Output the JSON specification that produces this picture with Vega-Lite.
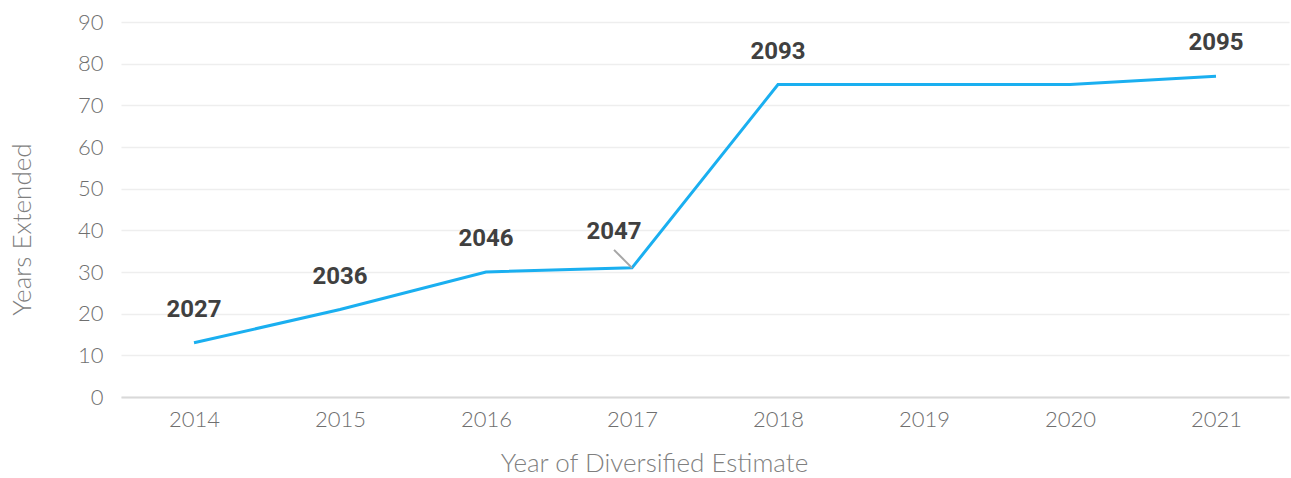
{
  "$schema": "https://vega.github.io/schema/vega-lite/v6.json",
  "width": 1168,
  "height": 375,
  "autosize": {"type": "none"},
  "padding": {"left": 121, "top": 22, "right": 2, "bottom": 81},
  "background": "white",
  "config": {
    "view": {"stroke": null},
    "font": "Lato"
  },
  "data": {
    "values": [
      {"year": "2014", "v": 13, "label": "2027", "lab": "normal"},
      {"year": "2015", "v": 21, "label": "2036", "lab": "normal"},
      {"year": "2016", "v": 30, "label": "2046", "lab": "normal"},
      {"year": "2017", "v": 31, "label": "2047", "lab": "leader"},
      {"year": "2018", "v": 75, "label": "2093", "lab": "normal"},
      {"year": "2019", "v": 75, "label": "", "lab": "none"},
      {"year": "2020", "v": 75, "label": "", "lab": "none"},
      {"year": "2021", "v": 77, "label": "2095", "lab": "normal"}
    ]
  },
  "encoding": {
    "x": {
      "field": "year",
      "type": "ordinal",
      "scale": {"type": "point", "padding": 0.5},
      "axis": {
        "title": "Year of Diversified Estimate",
        "labelAngle": 0,
        "labelFont": "Lato",
        "labelFontWeight": 300,
        "labelFontSize": 22,
        "labelColor": "#6f6f6f",
        "labelPadding": 12,
        "ticks": false,
        "domainColor": "#d9d9d9",
        "domainWidth": 2,
        "grid": false,
        "titleFont": "Lato",
        "titleFontWeight": 300,
        "titleFontSize": 26,
        "titleColor": "#7f7f7f",
        "titlePadding": 20,
        "titleX": 533
      }
    },
    "y": {
      "field": "v",
      "type": "quantitative",
      "scale": {"domain": [0, 90]},
      "axis": {
        "title": "Years Extended",
        "values": [0, 10, 20, 30, 40, 50, 60, 70, 80, 90],
        "labelFont": "Lato",
        "labelFontWeight": 300,
        "labelFontSize": 22,
        "labelColor": "#6f6f6f",
        "labelPadding": 18,
        "ticks": false,
        "domain": false,
        "gridColor": "#eeeeee",
        "gridWidth": 1.5,
        "titleFont": "Lato",
        "titleFontWeight": 300,
        "titleFontSize": 26,
        "titleColor": "#7f7f7f",
        "titlePadding": 42,
        "titleY": 207
      }
    }
  },
  "layer": [
    {
      "mark": {"type": "line", "color": "#1aaff0", "strokeWidth": 3},
      "encoding": {}
    },
    {
      "transform": [{"filter": "datum.lab == 'leader'"}],
      "mark": {"type": "rule", "color": "#a6a6a6", "strokeWidth": 2, "xOffset": -18, "yOffset": -18, "x2Offset": 0, "y2Offset": 0},
      "encoding": {
        "x2": {"field": "year"},
        "y2": {"field": "v"}
      }
    },
    {
      "transform": [{"filter": "datum.lab == 'normal'"}],
      "mark": {"type": "text", "font": "Roboto", "fontWeight": "bold", "fontSize": 24, "color": "#404040", "dy": -33, "baseline": "middle"},
      "encoding": {"text": {"field": "label"}}
    },
    {
      "transform": [{"filter": "datum.lab == 'leader'"}],
      "mark": {"type": "text", "font": "Roboto", "fontWeight": "bold", "fontSize": 24, "color": "#404040", "dy": -36, "dx": -18, "baseline": "middle"},
      "encoding": {"text": {"field": "label"}}
    }
  ]
}
